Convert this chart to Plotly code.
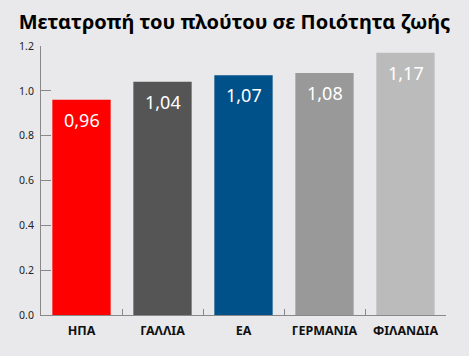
import plotly.graph_objects as go

categories = ["ΗΠΑ", "ΓΑΛΛΙΑ", "ΕΑ", "ΓΕΡΜΑΝΙΑ", "ΦΙΛΑΝΔΙΑ"]
values = [0.96, 1.04, 1.07, 1.08, 1.17]
value_labels = ["0,96", "1,04", "1,07", "1,08", "1,17"]
bar_colors = ["#FF0000", "#555555", "#00508A", "#999999", "#BBBBBB"]
y_ticks = [0.0, 0.2, 0.4, 0.6, 0.8, 1.0, 1.2]

BG = "#E9E9EB"
FONT = "Noto Sans"

fig = go.Figure()
fig.add_trace(go.Bar(
    x=categories, y=values,
    marker=dict(color=bar_colors, line=dict(width=0)),
    width=0.72,
    hoverinfo="skip",
))

for c, v, t in zip(categories, values, value_labels):
    fig.add_annotation(x=c, y=v, text=t, showarrow=False, yanchor="top",
                       yshift=-6, font=dict(family=FONT, size=18, color="white"))

fig.update_layout(
    width=469, height=356,
    paper_bgcolor=BG, plot_bgcolor=BG,
    margin=dict(l=41, r=23, t=46, b=41),
    showlegend=False,
    title=dict(text="<b>Μετατροπή του πλούτου σε Ποιότητα ζωής</b>",
               x=0.5, xanchor="center", y=1 - 22 / 356, yanchor="middle",
               font=dict(family=FONT, size=20, color="#000000")),
    xaxis=dict(
        type="category", showgrid=False, showline=True, linecolor="#888888", linewidth=1,
        ticks="inside", ticklen=6, tickcolor="#888888", tickson="boundaries",
        tickfont=dict(family=FONT, size=12.5, color="#111111", weight="bold"),
        ticklabelstandoff=4,
        range=[-0.5, 4.5],
    ),
    yaxis=dict(
        range=[0, 1.2], tickvals=y_ticks, tickformat=".1f", showgrid=False,
        showline=True, linecolor="#888888", linewidth=1,
        ticks="inside", ticklen=10, tickcolor="#888888",
        tickfont=dict(family=FONT, size=10.5, color="#222222"),
        ticklabelstandoff=4, zeroline=False,
    ),
)

fig.write_html("out.html", config={"displayModeBar": False},
               post_script="document.body.style.margin='0';document.body.style.background='" + BG + "';")
